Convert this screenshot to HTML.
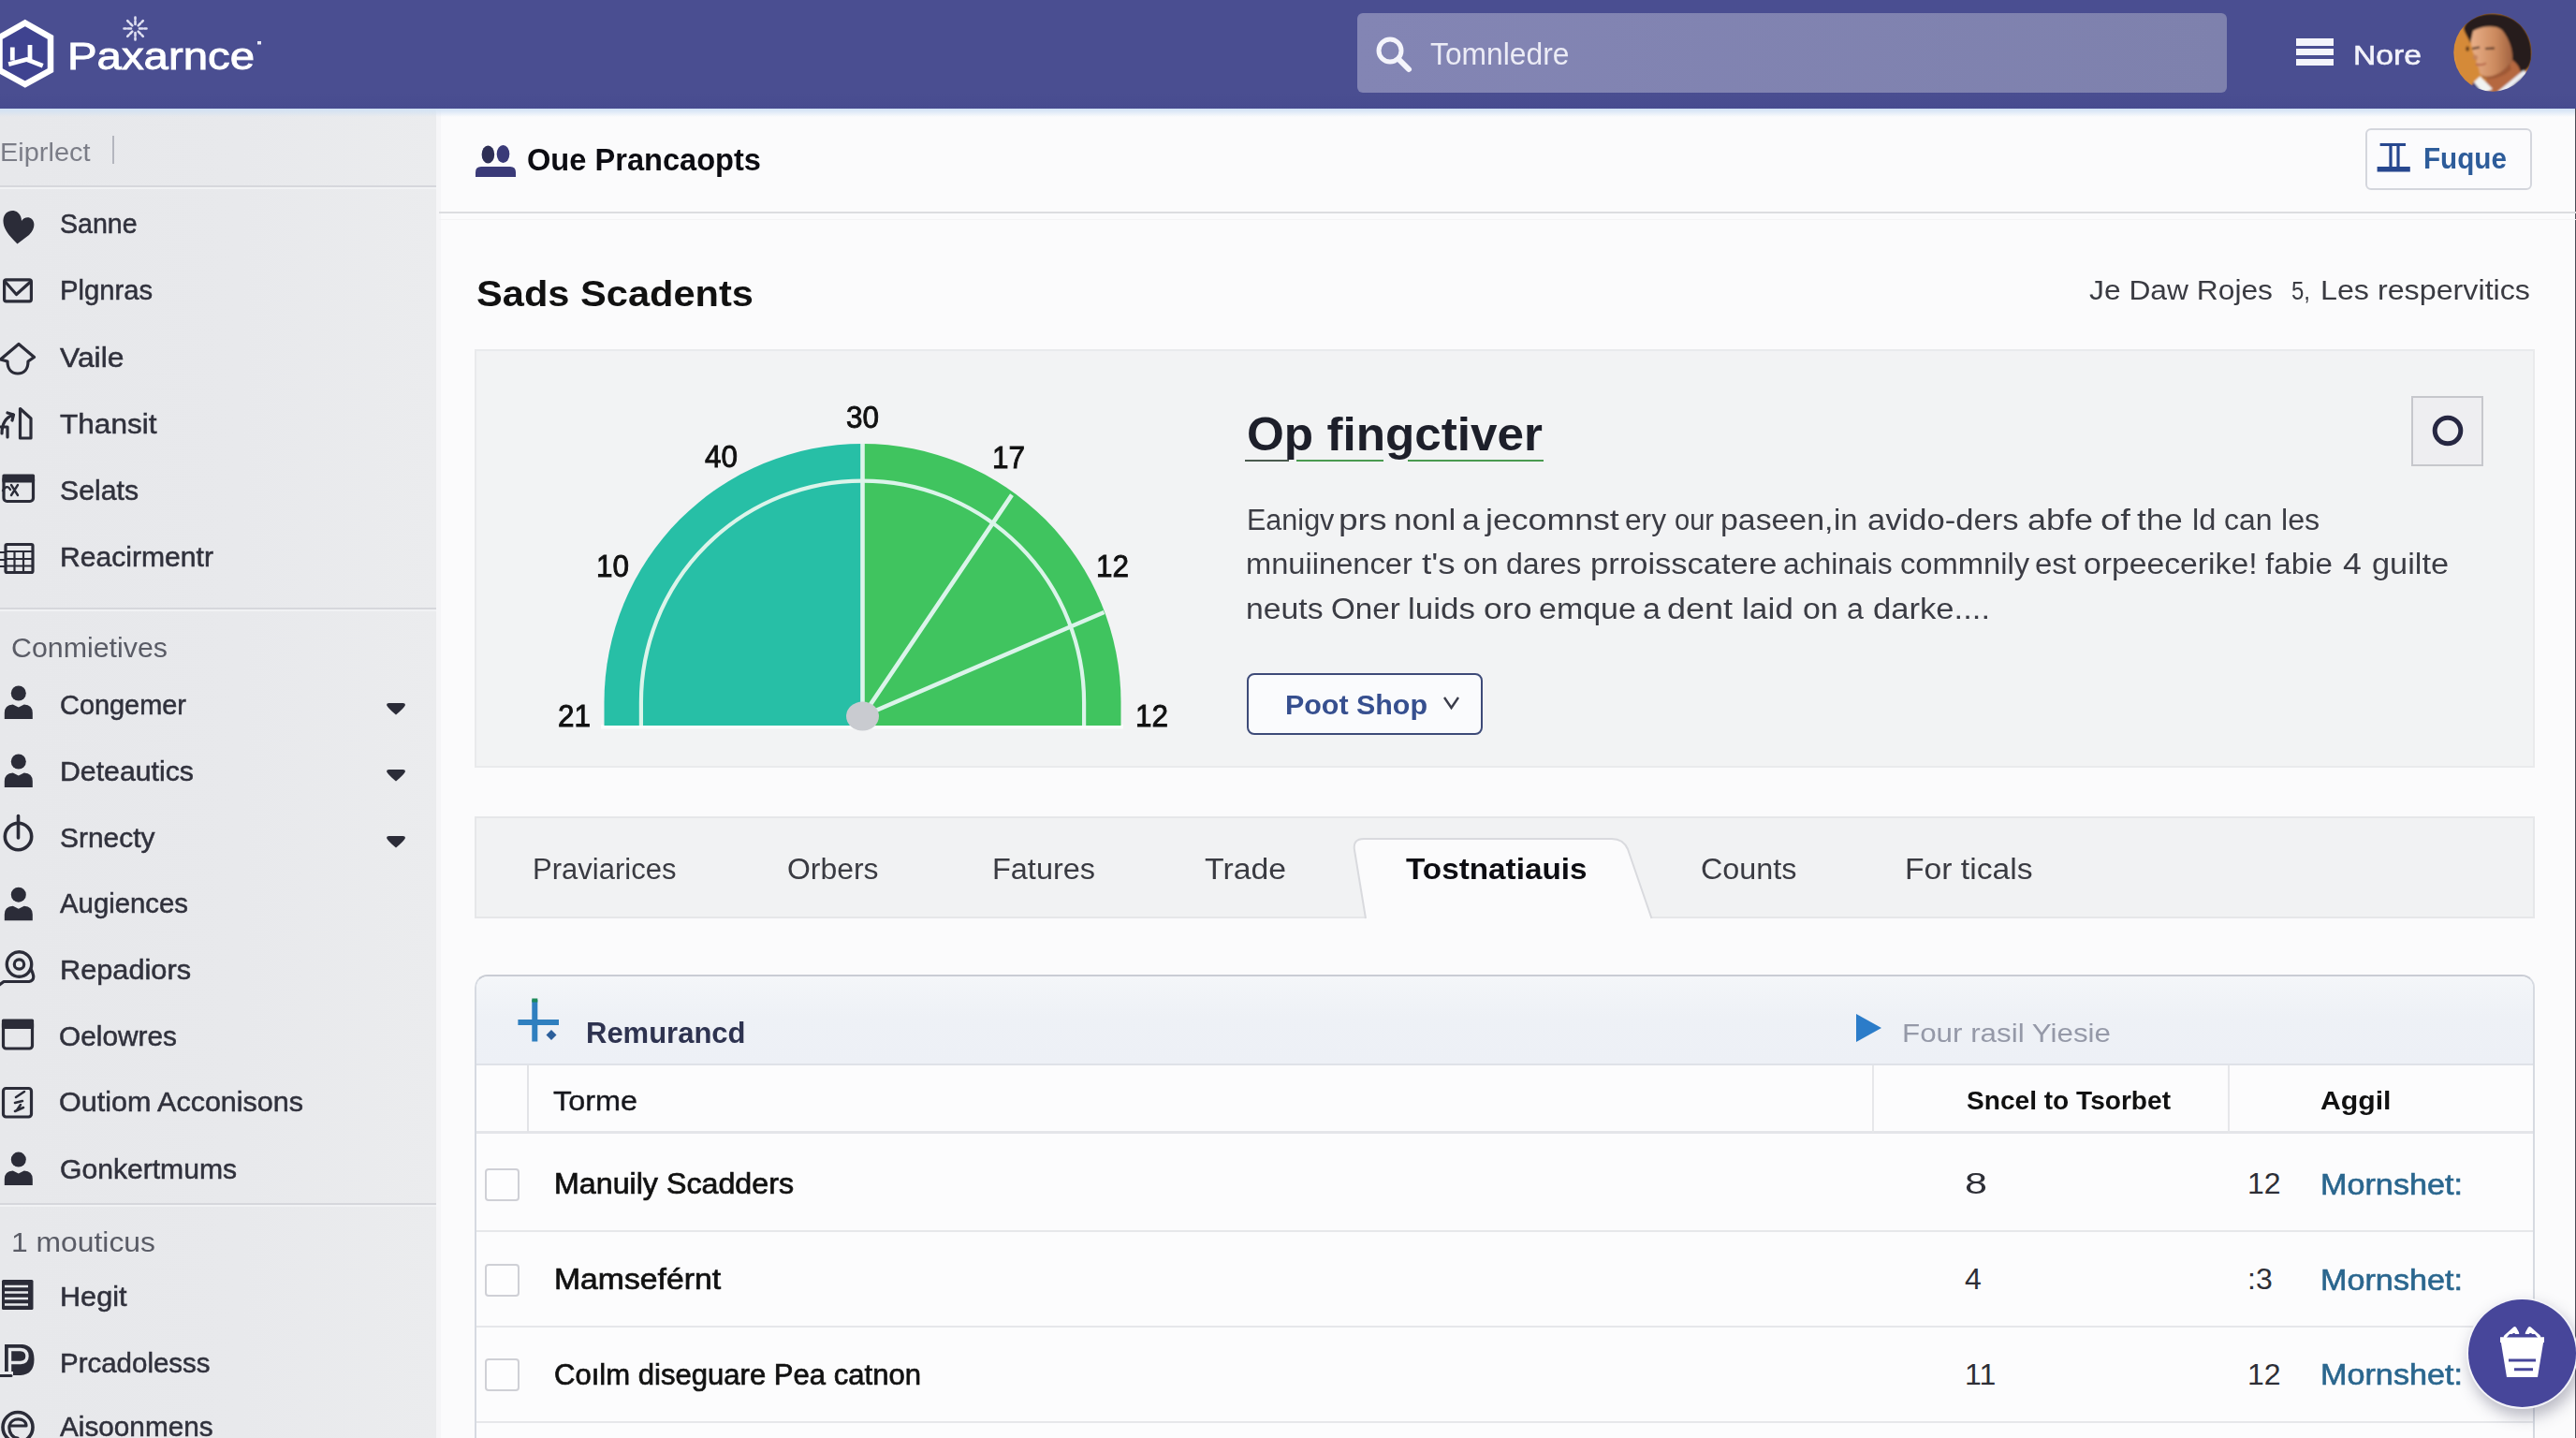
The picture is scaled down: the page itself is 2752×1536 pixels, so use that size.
<!DOCTYPE html>
<html><head><meta charset="utf-8"><title>Paxarnce</title>
<style>
html,body{margin:0;padding:0;}
body{width:2752px;height:1536px;overflow:hidden;position:relative;background:#fbfbfc;font-family:"Liberation Sans",sans-serif;}
.t{position:absolute;white-space:nowrap;line-height:1;transform-origin:0 0;}
.b{position:absolute;box-sizing:border-box;}
svg{position:absolute;overflow:visible;}
</style></head><body>
<div class="b" style="left:0px;top:115px;width:466px;height:1421px;background:linear-gradient(90deg,#e7e8eb 0,#e8e9ec 55%,#ebecee 100%);"></div>
<div class="b" style="left:466px;top:115px;width:5px;height:1421px;background:#f6f6f8;"></div>
<div class="b" style="left:0px;top:0px;width:2752px;height:115.6px;background:linear-gradient(#4a4e91 0,#4a4e91 85%,#474b8f 100%);"></div>
<div class="b" style="left:0px;top:115.6px;width:2752px;height:9px;background:linear-gradient(#cfe0f4,rgba(225,235,246,0));"></div>
<div class="b" style="left:1450px;top:14px;width:929px;height:85.3px;background:linear-gradient(90deg,#8385b4,#7e81ad);border-radius:6px;"></div>
<svg style="left:1468px;top:36.5px" width="44" height="44" viewBox="0 0 44 44"><circle cx="17" cy="17" r="12" fill="none" stroke="#f4f4fb" stroke-width="5"/><path d="M26 26 L37 37" stroke="#f4f4fb" stroke-width="6" stroke-linecap="round"/></svg>
<div class="t" style="left:1527.6px;top:41.1px;font-size:33px;color:#ececf6;transform:scaleX(0.9638);">Tomnledre</div>
<div class="b" style="left:2452.6px;top:41.2px;width:40.6px;height:7.6px;background:#f4f4fb;"></div>
<div class="b" style="left:2452.6px;top:51.9px;width:40.6px;height:7.6px;background:#f4f4fb;"></div>
<div class="b" style="left:2452.6px;top:62.8px;width:40.6px;height:7.7px;background:#f4f4fb;"></div>
<div class="t" style="left:2513.5px;top:43.8px;font-size:30px;color:#f2f2fa;transform:scaleX(1.1226);-webkit-text-stroke:0.6px #f2f2fa;">Nore</div>
<svg style="left:2621px;top:13.5px" width="84" height="84" viewBox="0 0 84 84">
<defs><clipPath id="av"><circle cx="42" cy="42" r="41.7"/></clipPath><filter id="bl" x="-10%" y="-10%" width="120%" height="120%"><feGaussianBlur stdDeviation="0.9"/></filter>
<linearGradient id="sk" x1="0" x2="1"><stop offset="0" stop-color="#e9b08a"/><stop offset=".55" stop-color="#cc8a5e"/><stop offset="1" stop-color="#9a5c3c"/></linearGradient></defs>
<g clip-path="url(#av)"><g filter="url(#bl)">
<rect x="-5" y="-5" width="94" height="94" fill="#d58a38"/>
<path d="M0 30 C0 60 10 80 30 84 L0 84 Z" fill="#e09a45"/>
<path d="M44 50 L72 44 L84 84 L30 84 Z" fill="#b5683f"/>
<path d="M19 20 C18 30 19.5 38 22 44 L21.5 48.5 L25 50 L24 55 L27 58 L28 64 C31 69 38 70 46 66 C56 62 64 55 66 44 L62 16 L34 10 Z" fill="url(#sk)"/>
<path d="M20 38 L28 36.5 M34 38 L44 37.5" stroke="#4a2c20" stroke-width="2.2" fill="none"/>
<path d="M24 54.5 Q30 56.5 35 53.5" stroke="#b5654a" stroke-width="2" fill="none"/>
<path d="M11 16 C14 4 34 -2 50 1 C72 4 86 24 84 48 C83 58 78 62 72 63 C70 56 66 52 63 50 C64 40 60 28 52 18 C44 12 30 14 21 19 C20 24 19 28 18 32 C16 26 12 22 11 16 Z" fill="#251d1d"/>
<path d="M15 35.5 a1.8 2.6 0 1 0 .1 0" fill="#5a3418"/>
<path d="M22 73.5 L28.5 67.5 L42 81 L36 84 L26 84 Z" fill="#f1f3f1"/>
<path d="M47 84 L75 61 L79 64.5 L56 84 Z" fill="#eceef2"/>
<path d="M56 84 L79 64.5 L84 70 L84 84 Z" fill="#3c3f86"/>
<path d="M22 74 L30 84 L14 84 Z" fill="#3a3c7c"/>
<path d="M30 66 C38 70 50 66 60 54 L62 60 C54 68 40 72 32 70 Z" fill="#8a4a30" opacity=".55"/>
<path d="M22 44 L21 49 L25.5 50 L26 46 Z" fill="#b8734e" opacity=".7"/>
</g></g></svg>
<div class="t" style="left:72.4px;top:40.1px;font-size:40px;color:#fff;transform:scaleX(1.1835);-webkit-text-stroke:0.9px #fff;">Paxarnce</div>
<svg style="left:0;top:0" width="300" height="115" viewBox="0 0 300 115">
<path d="M26.8 24.5 L54 40 L54 75 L26.8 90 L-0.5 75 L-0.5 40 Z" fill="#3f4390" stroke="#fff" stroke-width="6.5" stroke-linejoin="miter"/>
<path d="M13.3 53 V62 M32 50.5 V63.5 M11.5 68 L28.5 63.5 L43.5 69.3" fill="none" stroke="#fff" stroke-width="4.8" stroke-linecap="square" stroke-linejoin="miter"/>
<g stroke="#dfe0f2" stroke-width="2.6" stroke-linecap="round" stroke-dasharray="3.2 2.2"><path d="M144.5 26 V18.5 M144.5 35 V42.5 M140 30.5 H132.5 M149 30.5 H156.5 M141.3 27.3 L136.2 22.2 M147.7 33.7 L152.8 38.8 M147.7 27.3 L152.8 22.2 M141.3 33.7 L136.2 38.8"/></g>
<rect x="275" y="44" width="4" height="3.5" fill="#e8e8f6"/>
</svg>
<div class="b" style="left:2750.6px;top:115.6px;width:1.4px;height:1421px;background:#4a4b55;"></div>
<div class="b" style="left:469px;top:225.8px;width:2283px;height:2px;background:#dcdde0;"></div>
<div class="b" style="left:469px;top:233.5px;width:2283px;height:1.5px;background:#f3f3f5;"></div>
<div class="t" style="left:563.4px;top:153.8px;font-size:33px;color:#0c0c12;font-weight:bold;transform:scaleX(0.9878);">Oue Prancaopts</div>
<svg style="left:0;top:0" width="900" height="230" viewBox="0 0 900 230">
<ellipse cx="521.4" cy="165" rx="6.8" ry="9.5" fill="#2e2f55"/><ellipse cx="537.5" cy="164.5" rx="6.8" ry="9.5" fill="#3a3a78"/>
<path d="M508 189 V184 Q508 178 514 178 H545 Q551 178 551 184 V189 Z" fill="#3a3a78"/></svg>
<div class="b" style="left:2527px;top:137px;width:178px;height:66px;border:2px solid #d4d6dd;border-radius:6px;background:#fbfbfd;"></div>
<div class="t" style="left:2588.5px;top:154.4px;font-size:31px;color:#2d5c9a;font-weight:bold;transform:scaleX(0.9571);">Fuque</div>
<svg style="left:2530px;top:140px" width="60" height="60" viewBox="2530 140 60 60">
<path d="M2542.6 154.5 H2570 M2554 154.5 V180 M2562 154.5 V180" stroke="#27478f" stroke-width="3.2" fill="none"/>
<path d="M2539.6 180.8 H2574.8" stroke="#27478f" stroke-width="5.5"/></svg>
<div class="t" style="left:509.0px;top:295.3px;font-size:38px;color:#111;font-weight:bold;transform:scaleX(1.0949);">Sads Scadents</div>
<div class="t" style="left:2232.0px;top:295.4px;font-size:30px;color:#3a3b42;transform:scaleX(1.0590);">Je Daw Rojes</div>
<div class="t" style="left:2447.5px;top:297.9px;font-size:27px;color:#3a3b42;transform:scaleX(0.8882);">5,</div>
<div class="t" style="left:2478.6px;top:295.4px;font-size:30px;color:#3a3b42;transform:scaleX(1.0748);">Les respervitics</div>
<div class="b" style="left:507px;top:373px;width:2201px;height:447px;background:#f2f3f4;border:2px solid #e9eaec;"></div>
<svg style="left:0;top:0" width="2752" height="1536" viewBox="0 0 2752 1536">
<rect x="642" y="774" width="558" height="4.5" fill="#fbfcfc"/>
<path d="M645.5 775 V750 A276 276 0 0 1 921.5 474 L921.5 775 Z" fill="#27bfa6"/>
<path d="M921.5 474 A276 276 0 0 1 1197.5 750 V775 L921.5 775 Z" fill="#40c45f"/>
<path d="M684.9 775 V750 A236.6 236.6 0 0 1 1158.1 750 V775" fill="none" stroke="#dbf4ea" stroke-width="4.2"/>
<path d="M921.5 474 L921.5 765 M921.5 765 L1081 528.6 M921.5 765 L1179.5 654" stroke="#dbf4ea" stroke-width="4.6" fill="none"/>
<ellipse cx="921.5" cy="765" rx="17.5" ry="15.5" fill="#c9cbd0"/>
</svg>
<div class="t" style="left:903.5px;top:430.0px;font-size:32.5px;color:#111;transform:scaleX(0.9682);-webkit-text-stroke:0.9px #111;">30</div>
<div class="t" style="left:752.5px;top:471.5px;font-size:32.5px;color:#111;transform:scaleX(0.9682);-webkit-text-stroke:0.9px #111;">40</div>
<div class="t" style="left:1059.5px;top:472.5px;font-size:32.5px;color:#111;transform:scaleX(0.9682);-webkit-text-stroke:0.9px #111;">17</div>
<div class="t" style="left:636.5px;top:588.5px;font-size:32.5px;color:#111;transform:scaleX(0.9682);-webkit-text-stroke:0.9px #111;">10</div>
<div class="t" style="left:1170.5px;top:588.5px;font-size:32.5px;color:#111;transform:scaleX(0.9682);-webkit-text-stroke:0.9px #111;">12</div>
<div class="t" style="left:595.5px;top:748.5px;font-size:32.5px;color:#111;transform:scaleX(0.9682);-webkit-text-stroke:0.9px #111;">21</div>
<div class="t" style="left:1212.5px;top:748.5px;font-size:32.5px;color:#111;transform:scaleX(0.9682);-webkit-text-stroke:0.9px #111;">12</div>
<div class="t" style="left:1332.0px;top:438.7px;font-size:50px;color:#1d1f2a;font-weight:bold;transform:scaleX(1.0247);">Op fingctiver</div>
<div class="b" style="left:1329.6px;top:490.8px;width:47px;height:2px;background:#4a5a4e;"></div>
<div class="b" style="left:1385px;top:490.8px;width:93px;height:2px;background:#4a9a50;"></div>
<div class="b" style="left:1504px;top:490.8px;width:145px;height:2px;background:#4a9a50;"></div>
<div class="t" style="left:1331.5px;top:539.5px;font-size:31px;color:#3b3c44;transform:scaleX(0.9853);">Eanigv</div>
<div class="t" style="left:1430.3px;top:539.5px;font-size:31px;color:#3b3c44;transform:scaleX(1.1958);">prs</div>
<div class="t" style="left:1489.0px;top:539.5px;font-size:31px;color:#3b3c44;transform:scaleX(1.1329);">nonl</div>
<div class="t" style="left:1561.7px;top:539.5px;font-size:31px;color:#3b3c44;transform:scaleX(1.0904);">a</div>
<div class="t" style="left:1586.8px;top:539.5px;font-size:31px;color:#3b3c44;transform:scaleX(1.1504);">jecomnst</div>
<div class="t" style="left:1735.9px;top:539.5px;font-size:31px;color:#3b3c44;transform:scaleX(1.0217);">ery</div>
<div class="t" style="left:1788.5px;top:539.5px;font-size:31px;color:#3b3c44;transform:scaleX(0.9374);">our</div>
<div class="t" style="left:1838.1px;top:539.5px;font-size:31px;color:#3b3c44;transform:scaleX(1.0914);">paseen,</div>
<div class="t" style="left:1959.0px;top:539.5px;font-size:31px;color:#3b3c44;transform:scaleX(1.0568);">in</div>
<div class="t" style="left:1994.5px;top:539.5px;font-size:31px;color:#3b3c44;transform:scaleX(1.1158);">avido-ders</div>
<div class="t" style="left:2166.1px;top:539.5px;font-size:31px;color:#3b3c44;transform:scaleX(1.1618);">abfe</div>
<div class="t" style="left:2244.0px;top:539.5px;font-size:31px;color:#3b3c44;transform:scaleX(1.2377);">of</div>
<div class="t" style="left:2283.2px;top:539.5px;font-size:31px;color:#3b3c44;transform:scaleX(1.1301);">the</div>
<div class="t" style="left:2341.9px;top:539.5px;font-size:31px;color:#3b3c44;transform:scaleX(1.0527);">ld</div>
<div class="t" style="left:2375.5px;top:539.5px;font-size:31px;color:#3b3c44;transform:scaleX(1.0284);">can</div>
<div class="t" style="left:2437.0px;top:539.5px;font-size:31px;color:#3b3c44;transform:scaleX(1.0396);">les</div>
<div class="t" style="left:1331.0px;top:587.0px;font-size:31px;color:#3b3c44;transform:scaleX(1.0529);">mnuiinencer</div>
<div class="t" style="left:1518.8px;top:587.0px;font-size:31px;color:#3b3c44;transform:scaleX(1.1888);">t's</div>
<div class="t" style="left:1562.5px;top:587.0px;font-size:31px;color:#3b3c44;transform:scaleX(1.0904);">on</div>
<div class="t" style="left:1609.2px;top:587.0px;font-size:31px;color:#3b3c44;transform:scaleX(1.0355);">dares</div>
<div class="t" style="left:1698.5px;top:587.0px;font-size:31px;color:#3b3c44;transform:scaleX(1.1134);">prroisscatere</div>
<div class="t" style="left:1905.2px;top:587.0px;font-size:31px;color:#3b3c44;transform:scaleX(1.0260);">achinais</div>
<div class="t" style="left:2030.1px;top:587.0px;font-size:31px;color:#3b3c44;transform:scaleX(1.0549);">commnily</div>
<div class="t" style="left:2173.5px;top:587.0px;font-size:31px;color:#3b3c44;transform:scaleX(1.0640);">est</div>
<div class="t" style="left:2225.5px;top:587.0px;font-size:31px;color:#3b3c44;transform:scaleX(1.0879);">orpeecerike!</div>
<div class="t" style="left:2420.2px;top:587.0px;font-size:31px;color:#3b3c44;transform:scaleX(1.0696);">fabie</div>
<div class="t" style="left:2503.1px;top:587.0px;font-size:31px;color:#3b3c44;transform:scaleX(1.1484);">4</div>
<div class="t" style="left:2533.9px;top:587.0px;font-size:31px;color:#3b3c44;transform:scaleX(1.1078);">guilte</div>
<div class="t" style="left:1331.0px;top:634.5px;font-size:31px;color:#3b3c44;transform:scaleX(1.0879);">neuts</div>
<div class="t" style="left:1421.9px;top:634.5px;font-size:31px;color:#3b3c44;transform:scaleX(1.0708);">Oner</div>
<div class="t" style="left:1503.9px;top:634.5px;font-size:31px;color:#3b3c44;transform:scaleX(1.1293);">luids</div>
<div class="t" style="left:1585.0px;top:634.5px;font-size:31px;color:#3b3c44;transform:scaleX(1.1494);">oro</div>
<div class="t" style="left:1643.5px;top:634.5px;font-size:31px;color:#3b3c44;transform:scaleX(1.0951);">emque</div>
<div class="t" style="left:1754.5px;top:634.5px;font-size:31px;color:#3b3c44;transform:scaleX(1.0962);">a</div>
<div class="t" style="left:1781.3px;top:634.5px;font-size:31px;color:#3b3c44;transform:scaleX(1.1618);">dent</div>
<div class="t" style="left:1860.5px;top:634.5px;font-size:31px;color:#3b3c44;transform:scaleX(1.1397);">laid</div>
<div class="t" style="left:1925.5px;top:634.5px;font-size:31px;color:#3b3c44;transform:scaleX(1.0933);">on</div>
<div class="t" style="left:1973.2px;top:634.5px;font-size:31px;color:#3b3c44;transform:scaleX(1.0382);">a</div>
<div class="t" style="left:2001.2px;top:634.5px;font-size:31px;color:#3b3c44;transform:scaleX(1.1161);">darke....</div>
<div class="b" style="left:1332px;top:719px;width:252px;height:66px;border:2px solid #3d4a78;border-radius:8px;background:#fafbfd;"></div>
<div class="t" style="left:1373.0px;top:737.6px;font-size:30px;color:#364f8f;font-weight:bold;transform:scaleX(1.0135);">Poot Shop</div>
<svg style="left:1541px;top:743px" width="20" height="16"><path d="M2 2 L9.5 13 L17 2" fill="none" stroke="#3a3c4a" stroke-width="2.4"/></svg>
<div class="b" style="left:2575.5px;top:422.5px;width:77.5px;height:75.5px;border:2px solid #c6c7cc;background:#eeeef1;"></div>
<svg style="left:2576px;top:423px" width="77" height="74"><circle cx="39" cy="37" r="13.8" fill="none" stroke="#262742" stroke-width="5"/></svg>
<div class="b" style="left:507px;top:872px;width:2201px;height:109px;background:#f1f2f3;border:2px solid #e6e7e9;"></div>
<svg style="left:0;top:0" width="2752" height="1536" viewBox="0 0 2752 1536">
<path d="M1459 983 L1447 908 Q1445 896 1457 896 L1722 896 Q1734 896 1739 907 L1764.5 983 Z" fill="#fbfbfc"/>
<path d="M1459 981 L1447 908 Q1445 896 1457 896 L1722 896 Q1734 896 1739 907 L1764.5 981" fill="none" stroke="#d9dade" stroke-width="2"/>
</svg>
<div class="t" style="left:568.6px;top:913.3px;font-size:31px;color:#3a3b42;transform:scaleX(1.0011);">Praviarices</div>
<div class="t" style="left:841.0px;top:913.3px;font-size:31px;color:#3a3b42;transform:scaleX(1.0291);">Orbers</div>
<div class="t" style="left:1060.0px;top:913.3px;font-size:31px;color:#3a3b42;transform:scaleX(1.0466);">Fatures</div>
<div class="t" style="left:1287.0px;top:913.3px;font-size:31px;color:#3a3b42;transform:scaleX(1.0898);">Trade</div>
<div class="t" style="left:1502.0px;top:913.3px;font-size:31px;color:#0d0d12;font-weight:bold;transform:scaleX(1.0733);">Tostnatiauis</div>
<div class="t" style="left:1817.0px;top:913.3px;font-size:31px;color:#3a3b42;transform:scaleX(1.0435);">Counts</div>
<div class="t" style="left:2035.0px;top:913.3px;font-size:31px;color:#3a3b42;transform:scaleX(1.0855);">For ticals</div>
<div class="b" style="left:507px;top:1041px;width:2201px;height:520px;background:#fcfcfd;border:2px solid #d6dae1;border-top-color:#c9ccd4;border-radius:14px 14px 0 0;overflow:hidden;"></div>
<div class="b" style="left:509px;top:1043px;width:2197px;height:94px;background:linear-gradient(#f4f6f9,#eef1f6 45%,#edf0f6);border-radius:12px 12px 0 0;"></div>
<div class="b" style="left:509px;top:1136px;width:2197px;height:2px;background:#dfe2e8;"></div>
<div class="b" style="left:509px;top:1208px;width:2197px;height:3px;background:#e4e5e9;"></div>
<div class="b" style="left:509px;top:1314px;width:2197px;height:2px;background:#e6e7ea;"></div>
<div class="b" style="left:509px;top:1416px;width:2197px;height:2px;background:#e6e7ea;"></div>
<div class="b" style="left:509px;top:1518px;width:2197px;height:2px;background:#e6e7ea;"></div>
<div class="b" style="left:563px;top:1138px;width:2px;height:72px;background:#e2e3e7;"></div>
<div class="b" style="left:2000px;top:1138px;width:2px;height:72px;background:#e6e7ea;"></div>
<div class="b" style="left:2380px;top:1138px;width:2px;height:72px;background:#e6e7ea;"></div>
<svg style="left:0;top:0" width="2752" height="1536" viewBox="0 0 2752 1536"><path d="M571.3 1068 V1112.5 M553.4 1092 H597" stroke="#2f7fbf" stroke-width="6" fill="none"/><rect x="568.3" y="1066.5" width="6" height="4" fill="#1e8a5a"/><path d="M589 1100 L594.5 1105.5 L589 1111 L583.5 1105.5 Z" fill="#2c5f9b"/></svg>
<div class="t" style="left:625.7px;top:1087.8px;font-size:31px;color:#2e3350;font-weight:bold;transform:scaleX(0.9997);">Remurancd</div>
<svg style="left:1983px;top:1083px" width="28" height="30"><path d="M0 0 L27 15 L0 30 Z" fill="#2b7cc9"/></svg>
<div class="t" style="left:2032.0px;top:1088.5px;font-size:28.5px;color:#9599a8;transform:scaleX(1.0999);">Four rasil Yiesie</div>
<div class="t" style="left:590.9px;top:1160.6px;font-size:30px;color:#16171d;transform:scaleX(1.0797);-webkit-text-stroke:0.4px #16171d;">Torme</div>
<div class="t" style="left:2101.0px;top:1162.3px;font-size:28px;color:#111;font-weight:bold;transform:scaleX(1.0033);">Sncel to Tsorbet</div>
<div class="t" style="left:2478.5px;top:1162.3px;font-size:28px;color:#111;font-weight:bold;transform:scaleX(1.0788);">Aggil</div>
<div class="b" style="left:518px;top:1247.5px;width:37px;height:35px;border:2px solid #cfd0d6;border-radius:4px;background:#fdfdfe;"></div>
<div class="t" style="left:591.5px;top:1249.3px;font-size:31px;color:#111;transform:scaleX(1.0389);-webkit-text-stroke:0.7px #111;">Manuily Scadders</div>
<div class="t" style="left:2099.0px;top:1248.4px;font-size:32px;color:#2d2e36;transform:scaleX(1.3485);">8</div>
<div class="t" style="left:2401.0px;top:1248.4px;font-size:32px;color:#2d2e36;">12</div>
<div class="t" style="left:2478.5px;top:1249.7px;font-size:30.5px;color:#2a668e;transform:scaleX(1.1208);-webkit-text-stroke:0.6px #2a668e;">Mornshet:</div>
<div class="b" style="left:518px;top:1349.5px;width:37px;height:35px;border:2px solid #cfd0d6;border-radius:4px;background:#fdfdfe;"></div>
<div class="t" style="left:591.5px;top:1351.3px;font-size:31px;color:#111;transform:scaleX(1.0876);-webkit-text-stroke:0.7px #111;">Mamseférnt</div>
<div class="t" style="left:2099.0px;top:1350.4px;font-size:32px;color:#2d2e36;">4</div>
<div class="t" style="left:2401.0px;top:1350.4px;font-size:32px;color:#2d2e36;">:3</div>
<div class="t" style="left:2478.5px;top:1351.7px;font-size:30.5px;color:#2a668e;transform:scaleX(1.1208);-webkit-text-stroke:0.6px #2a668e;">Mornshet:</div>
<div class="b" style="left:518px;top:1451px;width:37px;height:35px;border:2px solid #cfd0d6;border-radius:4px;background:#fdfdfe;"></div>
<div class="t" style="left:591.5px;top:1452.8px;font-size:31px;color:#111;transform:scaleX(1.0021);-webkit-text-stroke:0.7px #111;">Coılm diseguare Pea catnon</div>
<div class="t" style="left:2099.0px;top:1451.9px;font-size:32px;color:#2d2e36;">11</div>
<div class="t" style="left:2401.0px;top:1451.9px;font-size:32px;color:#2d2e36;">12</div>
<div class="t" style="left:2478.5px;top:1453.2px;font-size:30.5px;color:#2a668e;transform:scaleX(1.1208);-webkit-text-stroke:0.6px #2a668e;">Mornshet:</div>
<div class="b" style="left:2635px;top:1386px;width:119px;height:119px;border-radius:50%;background:#f3f3f8;box-shadow:3px 8px 16px rgba(60,60,90,.35);"></div>
<div class="b" style="left:2637px;top:1388px;width:115px;height:115px;border-radius:50%;background:#47469a;"></div>
<svg style="left:0;top:0" width="2752" height="1536" viewBox="0 0 2752 1536">
<path d="M2671 1428.5 H2718 L2711 1471 H2678 Z" fill="#fff"/>
<path d="M2677 1428 L2686.5 1419.5 L2689 1424 M2712 1428 L2702.5 1419.5 L2700 1424" stroke="#fff" stroke-width="4.5" fill="none" stroke-linejoin="round" stroke-linecap="round"/>
<path d="M2676 1431 H2713 L2708 1425 H2681 Z" fill="#47469a"/>
<path d="M2671 1428.5 H2718 V1434 H2671 Z" fill="#fff"/>
<path d="M2680 1453 H2709 M2686 1462.7 H2706" stroke="#47469a" stroke-width="3"/>
</svg>
<div class="t" style="left:0.0px;top:150.1px;font-size:27px;color:#7b7d87;transform:scaleX(1.0718);">Eiprlect</div>
<div class="b" style="left:119.5px;top:145px;width:2.5px;height:30px;background:#b4b6be;"></div>
<div class="b" style="left:0px;top:197.5px;width:466px;height:2px;background:#d6d7dc;"></div>
<div class="b" style="left:0px;top:199.5px;width:466px;height:2px;background:#f1f2f4;"></div>
<div class="t" style="left:64.2px;top:225.3px;font-size:29px;color:#30313c;transform:scaleX(0.9850);-webkit-text-stroke:0.5px #30313c;">Sanne</div>
<div class="t" style="left:64.2px;top:296.2px;font-size:29px;color:#30313c;transform:scaleX(1.0068);-webkit-text-stroke:0.5px #30313c;">Plgnras</div>
<div class="t" style="left:64.2px;top:367.5px;font-size:29px;color:#30313c;transform:scaleX(1.0989);-webkit-text-stroke:0.5px #30313c;">Vaile</div>
<div class="t" style="left:64.2px;top:439.0px;font-size:29px;color:#30313c;transform:scaleX(1.0883);-webkit-text-stroke:0.5px #30313c;">Thansit</div>
<div class="t" style="left:64.2px;top:510.0px;font-size:29px;color:#30313c;transform:scaleX(1.0422);-webkit-text-stroke:0.5px #30313c;">Selats</div>
<div class="t" style="left:64.2px;top:581.0px;font-size:29px;color:#30313c;transform:scaleX(1.0384);-webkit-text-stroke:0.5px #30313c;">Reacirmentr</div>
<div class="b" style="left:0px;top:648.5px;width:466px;height:2px;background:#d6d7dc;"></div>
<div class="b" style="left:0px;top:650.5px;width:466px;height:2px;background:#f1f2f4;"></div>
<div class="t" style="left:11.7px;top:677.5px;font-size:29px;color:#5a5c66;transform:scaleX(1.0466);">Conmietives</div>
<div class="t" style="left:64.2px;top:739.2px;font-size:29px;color:#30313c;transform:scaleX(0.9970);-webkit-text-stroke:0.5px #30313c;">Congemer</div>
<div class="t" style="left:64.2px;top:810.1px;font-size:29px;color:#30313c;transform:scaleX(1.0437);-webkit-text-stroke:0.5px #30313c;">Deteautics</div>
<div class="t" style="left:64.2px;top:881.1px;font-size:29px;color:#30313c;transform:scaleX(1.0314);-webkit-text-stroke:0.5px #30313c;">Srnecty</div>
<div class="t" style="left:64.2px;top:951.2px;font-size:29px;color:#30313c;transform:scaleX(1.0116);-webkit-text-stroke:0.5px #30313c;">Augiences</div>
<div class="t" style="left:64.2px;top:1021.5px;font-size:29px;color:#30313c;transform:scaleX(1.0591);-webkit-text-stroke:0.5px #30313c;">Repadiors</div>
<div class="t" style="left:62.6px;top:1092.5px;font-size:29px;color:#30313c;transform:scaleX(1.0287);-webkit-text-stroke:0.5px #30313c;">Oelowres</div>
<div class="t" style="left:62.6px;top:1163.1px;font-size:29px;color:#30313c;transform:scaleX(1.0514);-webkit-text-stroke:0.5px #30313c;">Outiom Acconisons</div>
<div class="t" style="left:64.2px;top:1234.5px;font-size:29px;color:#30313c;transform:scaleX(1.0379);-webkit-text-stroke:0.5px #30313c;">Gonkertmums</div>
<svg style="left:413px;top:750.7px" width="20" height="13"><path d="M0 2 Q0 0 2.5 0 H17.5 Q20 0 20 2 Q19 5 10 12.5 Q1 5 0 2 Z" fill="#2b2c38"/></svg>
<svg style="left:413px;top:821.6px" width="20" height="13"><path d="M0 2 Q0 0 2.5 0 H17.5 Q20 0 20 2 Q19 5 10 12.5 Q1 5 0 2 Z" fill="#2b2c38"/></svg>
<svg style="left:413px;top:892.6px" width="20" height="13"><path d="M0 2 Q0 0 2.5 0 H17.5 Q20 0 20 2 Q19 5 10 12.5 Q1 5 0 2 Z" fill="#2b2c38"/></svg>
<div class="b" style="left:0px;top:1285px;width:466px;height:2px;background:#d6d7dc;"></div>
<div class="b" style="left:0px;top:1287px;width:466px;height:2px;background:#f1f2f4;"></div>
<div class="t" style="left:12.0px;top:1313.0px;font-size:29px;color:#5a5c66;transform:scaleX(1.0982);">1 mouticus</div>
<div class="t" style="left:64.2px;top:1370.5px;font-size:29px;color:#30313c;transform:scaleX(1.0561);-webkit-text-stroke:0.5px #30313c;">Hegit</div>
<div class="t" style="left:64.2px;top:1441.5px;font-size:29px;color:#30313c;transform:scaleX(1.0167);-webkit-text-stroke:0.5px #30313c;">Prcadolesss</div>
<div class="t" style="left:64.2px;top:1510.0px;font-size:29px;color:#30313c;transform:scaleX(1.0251);-webkit-text-stroke:0.5px #30313c;">Aisoonmens</div>
<svg style="left:0;top:0" width="60" height="1536" viewBox="0 0 60 1536" fill="none" stroke="#2b2c38" stroke-width="3.2" stroke-linejoin="round" stroke-linecap="round"><path d="M18.5 260.5 C10 252 3 244 3.5 235 C4 226 13 222.5 19 227 C22 229.5 23 233 23 236 C25 232 31 231 34 234 C38 238 37 245 31 251 Z" fill="#2b2c38" stroke="none"/><rect x="4.6" y="298.8" width="28.8" height="23" rx="2"/><path d="M6 301.5 L17.5 314.5 L32 301.5"/><path d="M0.5 384 L20 367.5 L36.5 381.5 L30 386 C30 394 26 399 19 399 C12 399 8 394 8 386 Z"/><path d="M21.5 468 V436.5 L33 447 V468 Z"/><path d="M2 463 C2 452 6 446 14 443 M8 441 L14.5 443 L13 449 M0 456 H8 M8 456 V467"/><rect x="4" y="508.5" width="31.5" height="27" rx="3.5"/><path d="M4 508 H35.5 V514 H4 Z" fill="#2b2c38"/><path d="M3 524 C6 519 9 519 11 523 M12 518 L19 529 M19 518 L12 529" stroke-width="2.4"/><rect x="6" y="581.5" width="29" height="30" rx="1.5"/><path d="M6 589 H35 M6 597 H35 M6 604.5 H35 M15.5 589 V611 M25 589 V611" stroke-width="2.2"/><path d="M0 590 H5 M0 598 H5 M0 605 H5" stroke-width="2"/><g stroke="none"><circle cx="19.8" cy="740.5" r="8" fill="#2b2c38"/><path d="M4.800000000000001 768.0 V761.5 Q4.800000000000001 753.0 13.8 752.5 L19.8 755.5 L25.8 752.5 Q34.8 753.0 34.8 761.5 V768.0 Z" fill="#2b2c38"/></g><g stroke="none"><circle cx="19.8" cy="813.5" r="8" fill="#2b2c38"/><path d="M4.800000000000001 841.0 V834.5 Q4.800000000000001 826.0 13.8 825.5 L19.8 828.5 L25.8 825.5 Q34.8 826.0 34.8 834.5 V841.0 Z" fill="#2b2c38"/></g><g stroke="none"><circle cx="19.8" cy="955.7" r="8" fill="#2b2c38"/><path d="M4.800000000000001 983.2 V976.7 Q4.800000000000001 968.2 13.8 967.7 L19.8 970.7 L25.8 967.7 Q34.8 968.2 34.8 976.7 V983.2 Z" fill="#2b2c38"/></g><g stroke="none"><circle cx="19.8" cy="1238.6" r="8" fill="#2b2c38"/><path d="M4.800000000000001 1266.1 V1259.6 Q4.800000000000001 1251.1 13.8 1250.6 L19.8 1253.6 L25.8 1250.6 Q34.8 1251.1 34.8 1259.6 V1266.1 Z" fill="#2b2c38"/></g><circle cx="19.5" cy="893.5" r="14.2" stroke-width="3.6"/><path d="M19.5 871.5 V895" stroke-width="3.6"/><circle cx="20.5" cy="1030" r="5.2"/><circle cx="20.5" cy="1030" r="13.2" stroke-width="3.4"/><path d="M33 1035 C36 1041 38 1047 31 1048.5 H4 L-2 1053"/><rect x="3.5" y="1090.5" width="31" height="29.5" rx="3"/><path d="M3.5 1090 H34.5 V1097.5 H3.5 Z" fill="#2b2c38"/><rect x="3.5" y="1162.5" width="30" height="30.5" rx="3"/><path d="M17 1172 L26 1166 M16 1178 L24 1176 M16 1187 L25 1183 M22 1180 L18 1186" stroke-width="2.6"/><rect x="2" y="1367" width="33.5" height="32" rx="1.5" fill="#2b2c38" stroke="none"/><path d="M5 1374 H30 M5 1380.5 H30 M5 1387 H30 M5 1393.5 H30" stroke="#e8e9ec" stroke-width="2.6" stroke-linecap="butt"/><path d="M5 1436 H24 Q36.5 1437 36.5 1452 Q36.5 1468 22 1469 H14 V1465 H5 Z" fill="#2b2c38" stroke="none"/><path d="M10.5 1465 V1441.5 H22 Q29 1442 29 1448.5 Q29 1455 22 1455.5 H12" stroke="#e8e9ec" stroke-width="3.4" stroke-linecap="butt" stroke-linejoin="miter"/><path d="M0 1469.5 H12" stroke-width="3"/><circle cx="19" cy="1524.5" r="16" stroke-width="3.6"/><path d="M10 1523 H28 C28 1514 12 1513 10 1523 C9 1531 14 1536 19 1536" stroke-width="3.2"/></svg>
</body></html>
